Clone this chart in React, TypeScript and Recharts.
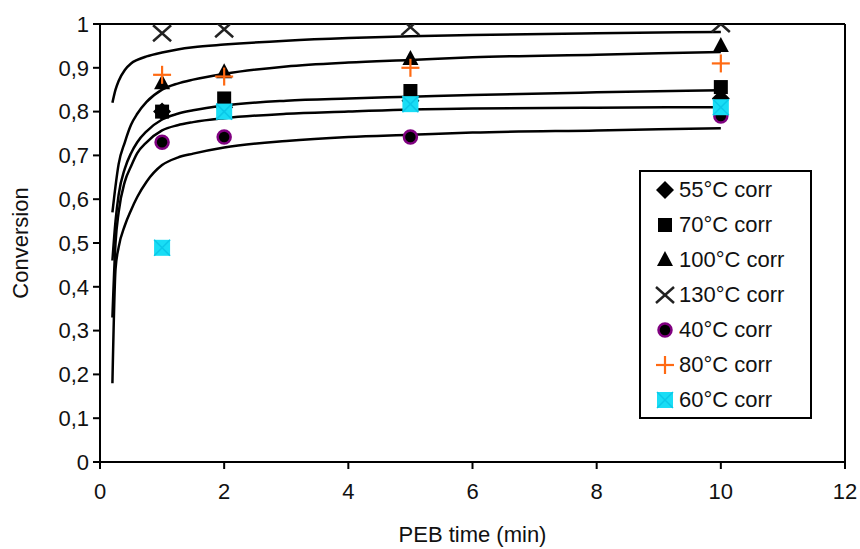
import { FC, ReactElement } from 'react';
import {
  ComposedChart,
  Legend,
  Line,
  ReferenceLine,
  Scatter,
  XAxis,
  YAxis,
} from 'recharts';

// measured PEB times (min)
const pebTimes = [1, 2, 5, 10];

// measured conversion per temperature
const conv55 = [0.8, 0.81, 0.825, 0.83];
const conv70 = [0.8, 0.83, 0.847, 0.856];
const conv100 = [0.865, 0.89, 0.92, 0.95];
const conv130 = [0.979, 0.988, 0.993, 1.0];
const conv40 = [0.73, 0.742, 0.742, 0.79];
const conv80 = [0.884, 0.88, 0.9, 0.91];
const conv60 = [0.489, 0.8, 0.817, 0.81];

// fitted curves
const fitTimes = [0.2, 0.25, 0.3, 0.4, 0.5, 0.6, 0.75, 1, 1.25, 1.5, 2, 3, 4, 5, 6, 8, 10];
const fitA = [0.82, 0.85, 0.87, 0.895, 0.91, 0.918, 0.926, 0.935, 0.942, 0.947, 0.953, 0.962, 0.968, 0.972, 0.975, 0.979, 0.982];
const fitB = [0.57, 0.63, 0.68, 0.73, 0.77, 0.795, 0.822, 0.85, 0.864, 0.873, 0.886, 0.903, 0.912, 0.918, 0.924, 0.93, 0.936];
const fitC = [0.46, 0.55, 0.61, 0.67, 0.705, 0.73, 0.755, 0.782, 0.795, 0.803, 0.814, 0.825, 0.83, 0.834, 0.838, 0.844, 0.849];
const fitD = [0.33, 0.5, 0.57, 0.64, 0.675, 0.705, 0.73, 0.757, 0.769, 0.776, 0.785, 0.795, 0.8, 0.805, 0.807, 0.809, 0.81];
const fitE = [0.18, 0.44, 0.49, 0.54, 0.575, 0.605, 0.64, 0.678, 0.695, 0.704, 0.718, 0.733, 0.742, 0.747, 0.752, 0.757, 0.762];

const xTicks = [0, 2, 4, 6, 8, 10, 12];
const yTicks = [0, 0.1, 0.2, 0.3, 0.4, 0.5, 0.6, 0.7, 0.8, 0.9, 1];

const FONT = '"Liberation Sans", Arial, sans-serif';
const INK = '#111';

const toPoints = (ts: number[], vs: number[]) => ts.map((t, i) => ({ t, v: vs[i] }));

type P = { cx?: number; cy?: number };

const Diamond = ({ cx = 0, cy = 0 }: P) => (
  <polygon points={`${cx},${cy - 9} ${cx + 9},${cy} ${cx},${cy + 9} ${cx - 9},${cy}`} fill="#000" />
);
const Square = ({ cx = 0, cy = 0 }: P) => (
  <rect x={cx - 7} y={cy - 7} width={14} height={14} fill="#000" />
);
const Triangle = ({ cx = 0, cy = 0 }: P) => (
  <polygon points={`${cx},${cy - 9} ${cx + 8},${cy + 6} ${cx - 8},${cy + 6}`} fill="#000" />
);
const Cross = ({ cx = 0, cy = 0 }: P) => (
  <g stroke="#222" strokeWidth={2.5}>
    <line x1={cx - 9} y1={cy - 8} x2={cx + 9} y2={cy + 8} />
    <line x1={cx - 9} y1={cy + 8} x2={cx + 9} y2={cy - 8} />
  </g>
);
const Dot = ({ cx = 0, cy = 0 }: P) => (
  <circle cx={cx} cy={cy} r={6.5} fill="#000" stroke="#800080" strokeWidth={2.5} />
);
const Plus = ({ cx = 0, cy = 0 }: P) => (
  <g stroke="#FF6A13" strokeWidth={2.2}>
    <line x1={cx - 9} y1={cy} x2={cx + 9} y2={cy} />
    <line x1={cx} y1={cy - 9} x2={cx} y2={cy + 9} />
  </g>
);
const CyanBox = ({ cx = 0, cy = 0 }: P) => (
  <g>
    <rect x={cx - 8} y={cy - 8} width={16} height={16} fill="#19DDF5" />
    <line x1={cx - 8} y1={cy - 8} x2={cx + 8} y2={cy + 8} stroke="#0BC8E8" strokeWidth={1.5} />
    <line x1={cx - 8} y1={cy + 8} x2={cx + 8} y2={cy - 8} stroke="#0BC8E8" strokeWidth={1.5} />
  </g>
);

const series: { name: string; values: number[]; Shape: FC<P> }[] = [
  { name: '55°C corr', values: conv55, Shape: Diamond },
  { name: '70°C corr', values: conv70, Shape: Square },
  { name: '100°C corr', values: conv100, Shape: Triangle },
  { name: '130°C corr', values: conv130, Shape: Cross },
  { name: '40°C corr', values: conv40, Shape: Dot },
  { name: '80°C corr', values: conv80, Shape: Plus },
  { name: '60°C corr', values: conv60, Shape: CyanBox },
];

const fits = [fitA, fitB, fitC, fitD, fitE];

const LegendBox = (): ReactElement => (
  <div
    style={{
      width: 169,
      border: '2px solid #000',
      background: '#fff',
      fontFamily: FONT,
      fontSize: 22,
      color: INK,
    }}
  >
    {series.map(({ name, Shape }) => (
      <div key={name} style={{ height: 35, display: 'flex', alignItems: 'center' }}>
        <svg width={20} height={20} style={{ marginLeft: 14, marginRight: 4 }}>
          <Shape cx={10} cy={10} />
        </svg>
        <span>{name}</span>
      </div>
    ))}
  </div>
);

const App = () => {
  return (
    <div style={{ position: 'absolute', left: 0, top: 0, background: '#fff' }}>
      <ComposedChart width={860} height={549} margin={{ top: 24, right: 15, bottom: 0, left: 0 }}>
        <XAxis
          dataKey="t"
          type="number"
          domain={[0, 12]}
          ticks={xTicks}
          allowDataOverflow
          height={87}
          tickSize={7}
          tickMargin={14}
          stroke="#000"
          strokeWidth={2}
          tick={{ fill: INK, fontSize: 22, fontFamily: FONT }}
          label={{
            value: 'PEB time (min)',
            position: 'insideBottom',
            offset: 7,
            fill: INK,
            fontSize: 22,
            fontFamily: FONT,
          }}
        />
        <YAxis
          dataKey="v"
          type="number"
          domain={[0, 1]}
          ticks={yTicks}
          allowDataOverflow
          width={100}
          tickSize={7}
          tickMargin={4}
          stroke="#000"
          strokeWidth={2}
          tickFormatter={(v: number) => String(v).replace('.', ',')}
          tick={{ fill: INK, fontSize: 22, fontFamily: FONT }}
          label={{
            value: 'Conversion',
            angle: -90,
            position: 'insideLeft',
            offset: 20,
            style: { textAnchor: 'middle' },
            fill: INK,
            fontSize: 22,
            fontFamily: FONT,
          }}
        />
        <ReferenceLine y={1} stroke="#000" strokeWidth={2} />
        <ReferenceLine x={12} stroke="#000" strokeWidth={2} />
        {series.map(({ name, values, Shape }) => (
          <Scatter
            key={name}
            name={name}
            data={toPoints(pebTimes, values)}
            dataKey="v"
            shape={(p: P) => <Shape cx={p.cx} cy={p.cy} />}
            isAnimationActive={false}
            legendType="none"
          />
        ))}
        {fits.map((vals, i) => (
          <Line
            key={i}
            data={toPoints(fitTimes, vals)}
            dataKey="v"
            type="monotone"
            stroke="#000"
            strokeWidth={2.5}
            dot={false}
            activeDot={false}
            isAnimationActive={false}
            legendType="none"
          />
        ))}
        <Legend
          layout="vertical"
          align="center"
          verticalAlign="middle"
          content={LegendBox}
          wrapperStyle={{ left: 639, top: 170, width: 173 }}
        />
      </ComposedChart>
    </div>
  );
};

export default App;
